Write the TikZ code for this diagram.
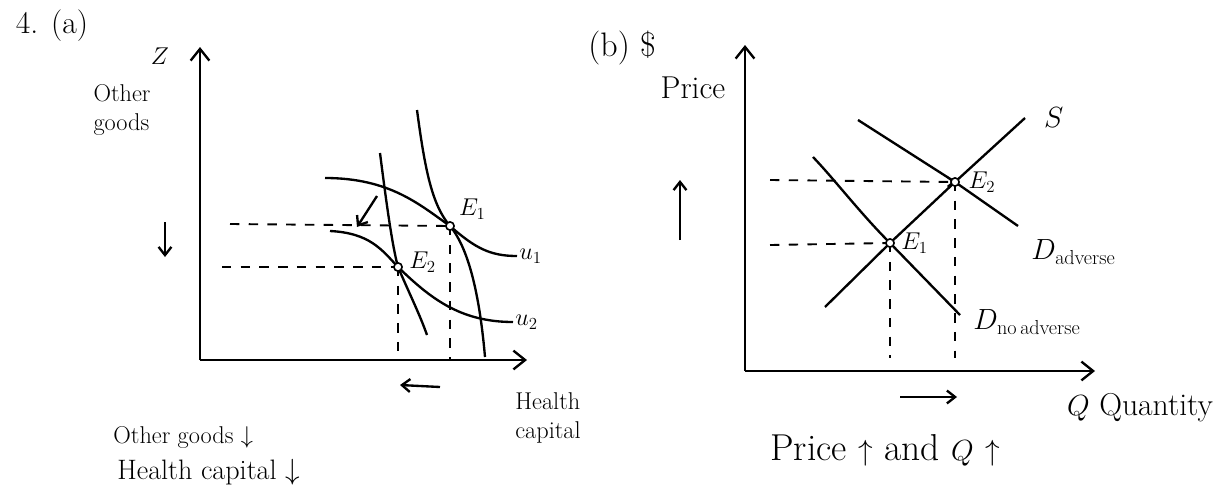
\documentclass[tikz,border=0pt]{standalone}
\usepackage{tikz}
\usetikzlibrary{calc, arrows.meta, positioning}

\begin{document}
\begin{tikzpicture}[x=0.03cm, y=-0.03cm,
    curve/.style={line width=2pt},
    axis/.style={line width=2pt, -{Straight Barb[length=10pt, width=16pt]}},
    guide/.style={line width=1.6pt, dash pattern=on 8pt off 8pt},
    move/.style={line width=2pt, -{Straight Barb[length=7pt, width=11pt]}},
    lbl/.style={font=\huge, inner sep=1pt},
    big/.style={font=\fontsize{27}{30}\selectfont, inner sep=1pt},
    eq/.style={line width=1.4pt, fill=white}]
\useasboundingbox (0,0) rectangle (1227,498);

			\coordinate (Oa) at (200,360);
			\coordinate (Ya) at (200,47);
			\coordinate (Xa) at (527,360);
			\coordinate (E1a) at (450,226);
			\coordinate (E2a) at (398,267);
			\coordinate (B1a) at (450,360);
			\coordinate (B2a) at (398,360);
			\coordinate (H1a) at (230,224);
			\coordinate (H2a) at (222,267);
			\draw[axis] (Oa) -- (Ya);
			\draw[axis] (Oa) -- (Xa);
			\draw[guide] (H1a) -- (E1a);
			\draw[guide] (H2a) -- (E2a);
			\draw[guide] (E2a) -- (B2a);
			\draw[guide] (E1a) -- (B1a);
			\draw[curve] (325,178) .. controls (390,178) and (420,205) .. (E1a)
				.. controls (475,248) and (490,256) .. (517,256) node[lbl, right] (u1) {$u_1$};
			\draw[curve] (330,231) .. controls (370,233) and (382,250) .. (E2a)
				.. controls (430,298) and (460,322) .. (513,322) node[lbl, right] (u2) {$u_2$};
			\draw[curve] (417,110) .. controls (425,170) and (432,205) .. (E1a)
				.. controls (470,250) and (480,300) .. (485,357);
			\draw[curve] (380,153) .. controls (386,200) and (392,245) .. (E2a)
				.. controls (410,295) and (420,315) .. (427,335);
			\draw[move] (377,196) -- (357,227);
			\draw[eq] (E1a) circle (3.5pt) node[lbl, above right=4pt and 6pt] (e1a) {$E_1$};
			\draw[eq] (E2a) circle (3.5pt) node[lbl, above right=-6pt and 8pt] (e2a) {$E_2$};
			\draw[move] (165,222) -- (165,257);
			\draw[move] (440,387) -- (400,385);
			\node[big] (part a) at (52,26) {4. (a)};
			\node[lbl] (z) at (160,56) {$Z$};
			\node[lbl, align=left] (goods) at (122,110) {Other\\goods};
			\node[lbl, align=left] (health) at (548,418) {Health\\capital};
			\node[lbl, anchor=west] (summary1) at (112,437) {Other goods $\downarrow$};
			\node[font=\fontsize{24}{28}\selectfont, inner sep=1pt, anchor=west] (summary2) at (116,472) {Health capital $\downarrow$};

			\coordinate (Ob) at (745,371);
			\coordinate (Yb) at (745,45);
			\coordinate (Xb) at (1095,371);
			\coordinate (E1b) at (890,243);
			\coordinate (E2b) at (955,182);
			\coordinate (B1b) at (890,358);
			\coordinate (B2b) at (955,358);
			\coordinate (H1b) at (770,245);
			\coordinate (H2b) at (770,180);
			\draw[axis] (Ob) -- (Yb);
			\draw[axis] (Ob) -- (Xb);
			\draw[guide] (H1b) -- (E1b);
			\draw[guide, -{Straight Barb[length=5pt, width=8pt]}] (H2b) -- (E2b);
			\draw[guide] (E1b) -- (B1b);
			\draw[guide] (E2b) -- (B2b);
			\draw[curve] (825,307) -- (E1b) -- (E2b) -- (1025,118) node[right=12pt, font=\fontsize{40}{44}\selectfont] (S) {$S$};
			\draw[curve] (858,120) -- (E2b) -- (1018,226);
			\draw[curve] (813,157) .. controls (835,180) and (860,213) .. (E1b) -- (960,315);
			\draw[eq] (E1b) circle (3.5pt) node[lbl, right=8pt] (e1b) {$E_1$};
			\draw[eq] (E2b) circle (3.5pt) node[lbl, right=10pt] (e2b) {$E_2$};
			\node[big, anchor=west] (dadv) at (1030,252) {$D_{\mathrm{adverse}}$};
			\node[big, anchor=west] (dno) at (972,322) {$D_{\mathrm{no\,adverse}}$};
			\draw[move] (680,240) -- (680,180);
			\draw[move] (900,397) -- (957,397);
			\node[font=\fontsize{29}{32}\selectfont, inner sep=1pt] (part b) at (622,48) {(b) \$};
			\node[big] (price) at (693,88) {Price};
			\node[big] (quantity) at (1140,408) {$Q$ Quantity};
			\node[font=\fontsize{32}{36}\selectfont, inner sep=1pt] (summary3) at (885,450) {Price $\uparrow$ and $Q$ $\uparrow$};
\end{tikzpicture}
\end{document}
